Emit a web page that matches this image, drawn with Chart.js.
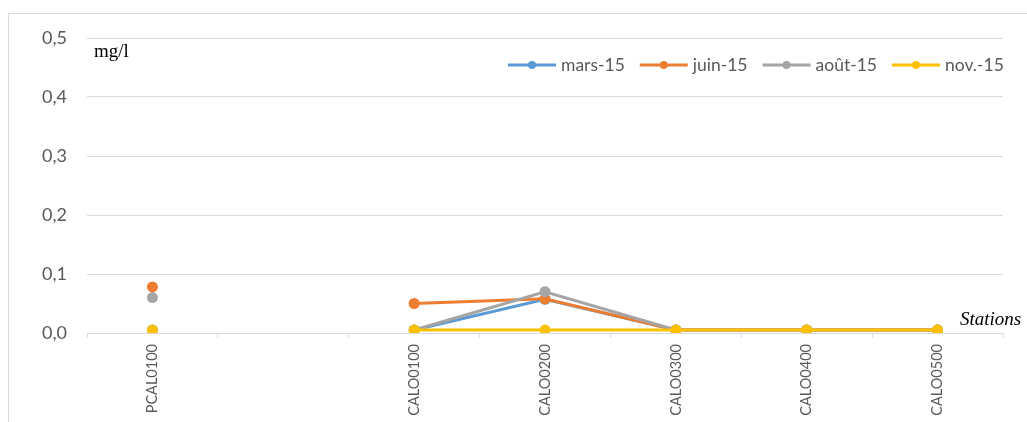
<!DOCTYPE html>
<html>
<head>
<meta charset="utf-8">
<script src="https://cdn.jsdelivr.net/npm/chart.js@4/dist/chart.umd.min.js"></script>
<style>
  body { margin: 0; background: #fff; overflow: hidden; }
  #cadre { position: absolute; left: 8px; top: 13px; width: 1100px; height: 500px; border: 1px solid #d9d9d9; }
  #graphe { position: absolute; left: 0; top: 0; }
</style>
</head>
<body>
<div id="cadre"></div>
<canvas id="graphe" width="1027" height="422"></canvas>
<script>
// stations (une colonne vide entre PCAL0100 et CALO0100)
const stations = ['PCAL0100', '', 'CALO0100', 'CALO0200', 'CALO0300', 'CALO0400', 'CALO0500'];

const mars15 = [0.005, null, 0.005, 0.057, 0.005, 0.005, 0.005];
const juin15 = [0.078, null, 0.05, 0.058, 0.005, 0.005, 0.005];
const aout15 = [0.06, null, 0.005, 0.07, 0.005, 0.005, 0.005];
const nov15  = [0.005, null, 0.005, 0.005, 0.005, 0.005, 0.005];

const graduations = ['0,0', '0,1', '0,2', '0,3', '0,4', '0,5'];

const gris = '#595959';

function serie(label, data, couleur, ordre) {
  return {
    label: label,
    data: data,
    borderColor: couleur,
    backgroundColor: couleur,
    borderWidth: 3,
    pointRadius: 5.5,
    pointHoverRadius: 5.5,
    pointBorderWidth: 0,
    spanGaps: false,
    order: ordre
  };
}

// légende maison : trait + pastille, puis textes mg/l et Stations
const habillage = {
  id: 'habillage',
  afterDraw(chart) {
    const ctx = chart.ctx;
    const zone = chart.chartArea;
    ctx.save();

    ctx.font = '17.5px Lato';
    ctx.textBaseline = 'middle';
    let x = 508;
    const y = 65;
    chart.data.datasets.forEach(function (ds) {
      ctx.strokeStyle = ds.borderColor;
      ctx.lineWidth = 3;
      ctx.beginPath();
      ctx.moveTo(x, y);
      ctx.lineTo(x + 48, y);
      ctx.stroke();
      ctx.fillStyle = ds.borderColor;
      ctx.beginPath();
      ctx.arc(x + 24, y, 4, 0, Math.PI * 2);
      ctx.fill();
      ctx.fillStyle = gris;
      ctx.textAlign = 'left';
      ctx.fillText(ds.label, x + 53, y);
      x += 53 + ctx.measureText(ds.label).width + 15;
    });

    ctx.fillStyle = '#000';
    ctx.font = '19px "Liberation Serif"';
    ctx.fillText('mg/l', zone.left + 7, 52);
    ctx.font = 'italic 19px "Liberation Serif"';
    ctx.fillText('Stations', 960, 320);
    ctx.restore();
  }
};

new Chart(document.getElementById('graphe'), {
  type: 'line',
  data: {
    labels: stations,
    datasets: [
      serie('mars-15', mars15, '#5b9bd5', 3),
      serie('juin-15', juin15, '#ed7d31', 2),
      serie('août-15', aout15, '#a5a5a5', 1),
      serie('nov.-15', nov15, '#ffc000', 0)
    ]
  },
  options: {
    responsive: false,
    animation: false,
    layout: { padding: { top: 38, right: 24, left: 0, bottom: 0 } },
    plugins: {
      legend: { display: false },
      tooltip: { enabled: false }
    },
    scales: {
      x: {
        offset: true,
        grid: {
          offset: true,
          drawOnChartArea: false,
          drawTicks: true,
          tickLength: 5,
          color: '#d9d9d9'
        },
        border: { color: '#d9d9d9' },
        ticks: {
          autoSkip: false,
          maxRotation: 90,
          minRotation: 90,
          padding: 6,
          color: gris,
          font: { family: 'Lato', size: 14.5 }
        },
        afterFit(scale) { scale.height = 89; }
      },
      y: {
        min: 0,
        max: 0.5,
        grid: { color: '#d9d9d9', drawTicks: false },
        border: { display: false },
        ticks: {
          stepSize: 0.1,
          padding: 20,
          color: gris,
          font: { family: 'Lato', size: 18 },
          callback: function (v) { return graduations[Math.round(v * 10)]; }
        },
        afterFit(scale) { scale.width = 87; }
      }
    }
  },
  plugins: [habillage]
});
</script>
</body>
</html>
